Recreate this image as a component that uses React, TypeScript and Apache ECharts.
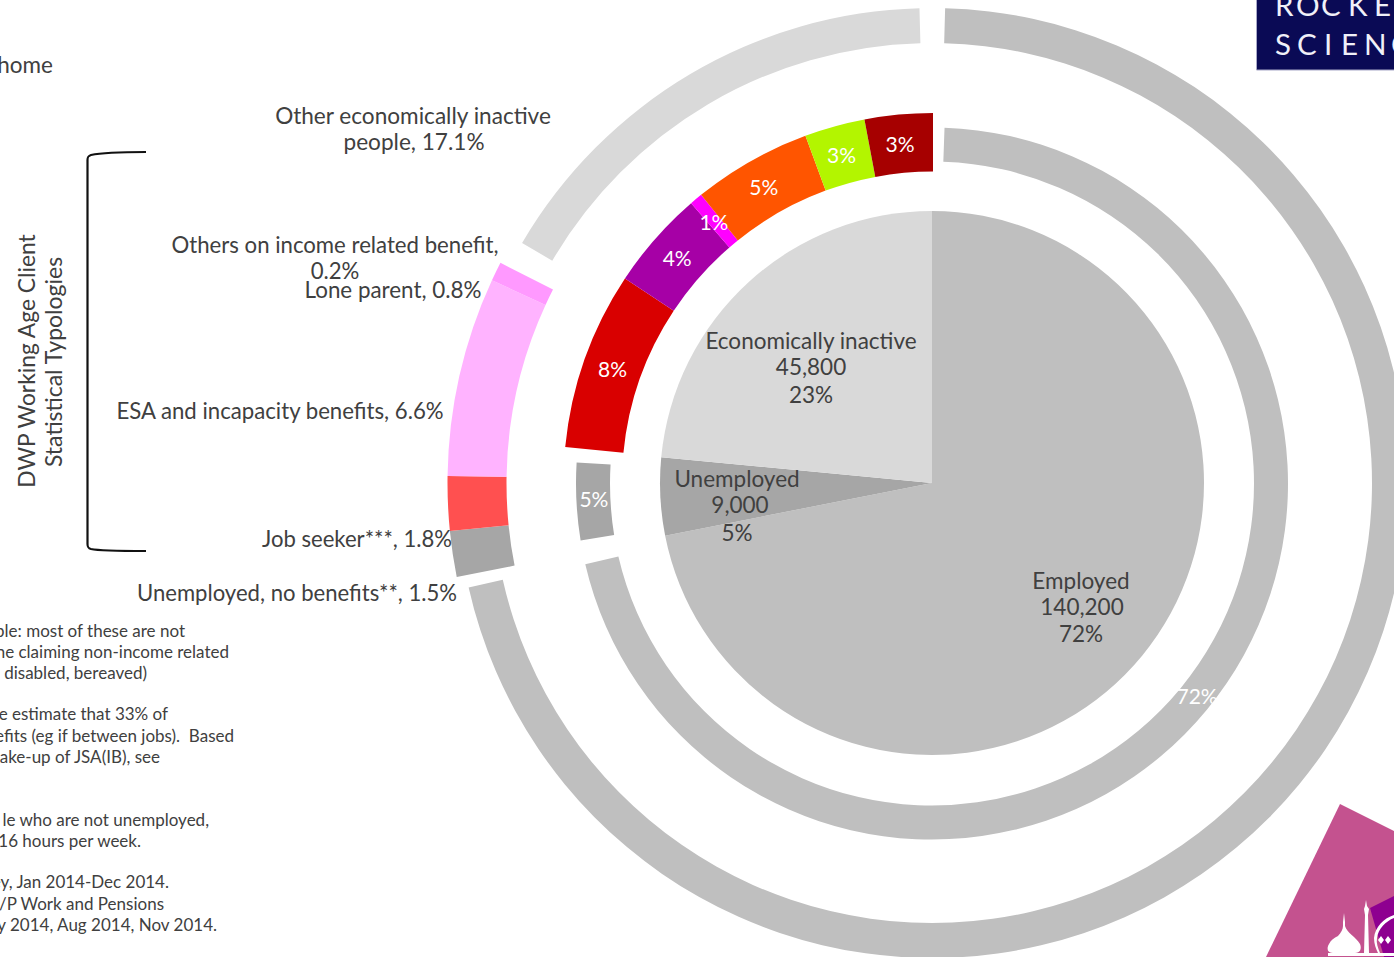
import React, { useEffect, useRef } from "react";
import * as echarts from "echarts";

const CENTER = [932, 483];
const GAP = "gap";
const FONT = "Lato";
const INK = "#404040";

const pieNames = ["Employed", "Unemployed", "Economically inactive"];
const pieValues = [140200, 9000, 45800];
const pieColors = ["#bfbfbf", "#a6a6a6", "#d9d9d9"];

const midThickValues = [76.53, 7.78, 4.33, 0.56, 5.19, 2.64, 2.97];
const midThickNames = [GAP, "Red", "Purple", "Magenta", "Orange", "Lime", "Dark red"];
const midThickLabels = ["", "8%", "4%", "1%", "5%", "3%", "3%"];
const midThickColors = ["", "#d90000", "#a600a6", "#ff00ff", "#ff5500", "#b3f500", "#a60000"];
const midThickNudges = [[0, 0], [3, 1], [2, 2], [1, 2], [0, 3], [0, 3], [-1, 3]];

const midThinValues = [0.56, 70.8, 1.08, 3.5, 24.06];
const midThinNames = [GAP, "Employed", GAP, "Unemployed", GAP];
const midThinLabels = ["", "72%", "", "5%", ""];
const midThinColors = ["", "#bfbfbf", "", "#a6a6a6", ""];
const midThinNudges = [[0, 0], [1, -5], [0, 0], [3.5, -2], [0, 0]];

const outerThickValues = [71.89, 1.53, 1.81, 6.64, 0.64, 17.49];
const outerThickNames = [GAP, "Unemployed, no benefits", "Job seeker", "ESA and incapacity", "Lone parent", GAP];
const outerThickColors = ["", "#a6a6a6", "#ff5050", "#ffb3ff", "#ff99ff", ""];

const outerThinValues = [0.44, 71.03, 11.96, 16.15, 0.42];
const outerThinNames = [GAP, "Employed", GAP, "Other economically inactive", GAP];
const outerThinColors = ["", "#bfbfbf", "", "#d9d9d9", ""];

// [text, centre x, y, font size]
const calloutLabels: [string, number, number, number][] = [
  ["Other economically inactive", 413, 115, 22.6],
  ["people, 17.1%", 414, 141, 22.6],
  ["Others on income related benefit,", 335, 244, 22.2],
  ["0.2%", 335, 270, 22.2],
  ["Lone parent, 0.8%", 393, 289, 22.4],
  ["ESA and incapacity benefits, 6.6%", 280, 410, 22.2],
  ["Job seeker***, 1.8%", 357, 538, 22.1],
  ["Unemployed, no benefits**, 1.5%", 297, 592, 22.1],
];

const pieLabels: [string, number, number][] = [
  ["Economically inactive", 811, 340],
  ["45,800", 811, 366],
  ["23%", 811, 394],
  ["Unemployed", 737, 478],
  ["9,000", 740, 504],
  ["5%", 737, 532],
  ["Employed", 1081, 580],
  ["140,200", 1082, 606],
  ["72%", 1081, 633],
];

const footnotes: [string, number, number][] = [
  ["ple: most of these are not", 185, 630],
  ["ne claiming non-income related", 229, 651],
  ["disabled, bereaved)", 147, 672],
  ["e estimate that 33% of", 168, 713],
  ["efits (eg if between jobs).  Based", 234, 735],
  ["ake-up of JSA(IB), see", 160, 756],
  ["le who are not unemployed,", 209, 819],
  ["16 hours per week.", 141, 840],
  ["ey, Jan 2014-Dec 2014.", 169, 881],
  ["/P Work and Pensions", 164, 903],
  ["y 2014, Aug 2014, Nov 2014.", 217, 924],
];

const logoLetters: [string, number, number][] = [
  ["R", 1275, 4], ["O", 1296, 4], ["C", 1321, 4], ["K", 1348, 4], ["E", 1374, 4],
  ["S", 1275, 43], ["C", 1297, 43], ["I", 1324, 43], ["E", 1341, 43], ["N", 1364, 43], ["C", 1391, 43],
];

const BRACKET = "M146 152 C120 152 100 153 91 155 C88 156 87.5 157 87.5 160 L87.5 544 C87.5 547 88 548 91 549 C100 551 120 551 146 551";
const DOMES =
  "M1344 913 L1345 922 L1345 926 C1347 933 1356 937 1360 944 C1362 949 1360 953 1355 953 L1333 953 C1328 953 1326 949 1329 944 C1331 940 1334 938 1338 936 C1341 933 1343 929 1343 926 L1343 922 Z " +
  "M1366 900 L1367 906 L1369 909 L1368 915 L1369 953 L1364 953 L1365 915 L1364 909 L1365 906 Z " +
  "M1328 953 L1394 953 L1394 956 L1328 956 Z";
const PALACE =
  "M1394 915 C1384 918 1375 927 1374 938 C1374 944 1376 949 1378 953 L1380 953 C1378 948 1376 943 1377 938 C1378 929 1386 921 1394 918 Z " +
  "M1381 936 L1384 940 L1381 944 L1378 940 Z M1388 936 L1391 940 L1388 944 L1385 940 Z";

echarts.graphic.registerShape("bracketShape", echarts.graphic.extendPath(BRACKET, {}) as any);
echarts.graphic.registerShape("domesShape", echarts.graphic.extendPath(DOMES, {}) as any);
echarts.graphic.registerShape("palaceShape", echarts.graphic.extendPath(PALACE, {}) as any);

const ring = (
  center: number[],
  radius: number[],
  values: number[],
  names: string[],
  colors: string[],
  labels?: string[],
  nudges?: number[][],
) => ({
  type: "pie",
  center,
  radius,
  startAngle: 90,
  clockwise: true,
  silent: true,
  avoidLabelOverlap: false,
  minShowLabelAngle: 0,
  labelLine: { show: false },
  label: { show: false },
  labelLayout: nudges
    ? (p: any) => ({ dx: nudges[p.dataIndex][0], dy: nudges[p.dataIndex][1] })
    : undefined,
  data: values.map((value, i) => ({
    value,
    name: names[i],
    itemStyle: { color: colors[i] || "rgba(0,0,0,0)" },
    label: labels && labels[i]
      ? {
          show: true,
          position: "inside",
          formatter: labels[i],
          color: "#ffffff",
          fontFamily: FONT,
          fontSize: 21,
        }
      : { show: false },
  })),
});

const txt = (text: string, x: number, y: number, size: number, align = "center", fill = INK, rotation = 0) => ({
  type: "text",
  x,
  y,
  rotation,
  z: 10,
  style: { text, fill, font: `${size}px ${FONT}`, textAlign: align, textVerticalAlign: "middle" },
});

export default function App() {
  const ref = useRef<HTMLDivElement>(null);
  useEffect(() => {
    const chart = echarts.init(ref.current!, undefined, { renderer: "svg", width: 1394, height: 957 });
    chart.setOption({
      animation: false,
      backgroundColor: "#ffffff",
      series: [
        ring(CENTER, [0, 272], pieValues, pieNames, pieColors),
        ring([933, 482.5], [311, 369.5], midThickValues, midThickNames, midThickColors, midThickLabels, midThickNudges),
        ring([932, 483.5], [322, 356], midThinValues, midThinNames, midThinColors, midThinLabels, midThinNudges),
        ring(CENTER, [425.5, 484.5], outerThickValues, outerThickNames, outerThickColors),
        ring(CENTER, [440, 475], outerThinValues, outerThinNames, outerThinColors),
      ],
      graphic: {
        elements: [
          ...calloutLabels.map(([t, x, y, s]) => txt(t, x, y, s)),
          ...pieLabels.map(([t, x, y]) => txt(t, x, y, 22.5)),
          txt("home", 53, 64, 22.5, "right"),
          txt("DWP Working Age Client", 26, 361, 22.8, "center", INK, Math.PI / 2),
          txt("Statistical Typologies", 52.5, 362, 23, "center", INK, Math.PI / 2),
          ...footnotes.map(([t, x, y]) => txt(t, x, y, 17, "right")),
          { type: "bracketShape", z: 5, style: { fill: "none", stroke: "#111111", lineWidth: 2.2 } },
          { type: "rect", z: 5, shape: { x: 1256.5, y: -2, width: 140, height: 72 }, style: { fill: "#0a0a55", stroke: "#a8a8c8", lineWidth: 1 } },
          ...logoLetters.map(([t, x, y]) => txt(t, x, y, 29.5, "left", "#f0f0f8")),
          { type: "polygon", z: 5, shape: { points: [[1340, 804], [1394, 831], [1394, 957], [1266, 957]] }, style: { fill: "#c4528f" } },
          { type: "polygon", z: 6, shape: { points: [[1394, 896], [1370, 908], [1384, 957], [1394, 957]] }, style: { fill: "#8e0090" } },
          { type: "domesShape", z: 7, style: { fill: "#ffffff" } },
          { type: "palaceShape", z: 7, style: { fill: "#ffffff" } },
        ],
      },
    });
    return () => chart.dispose();
  }, []);
  return <div ref={ref} style={{ position: "absolute", left: 0, top: 0, width: 1394, height: 957, overflow: "hidden" }} />;
}
